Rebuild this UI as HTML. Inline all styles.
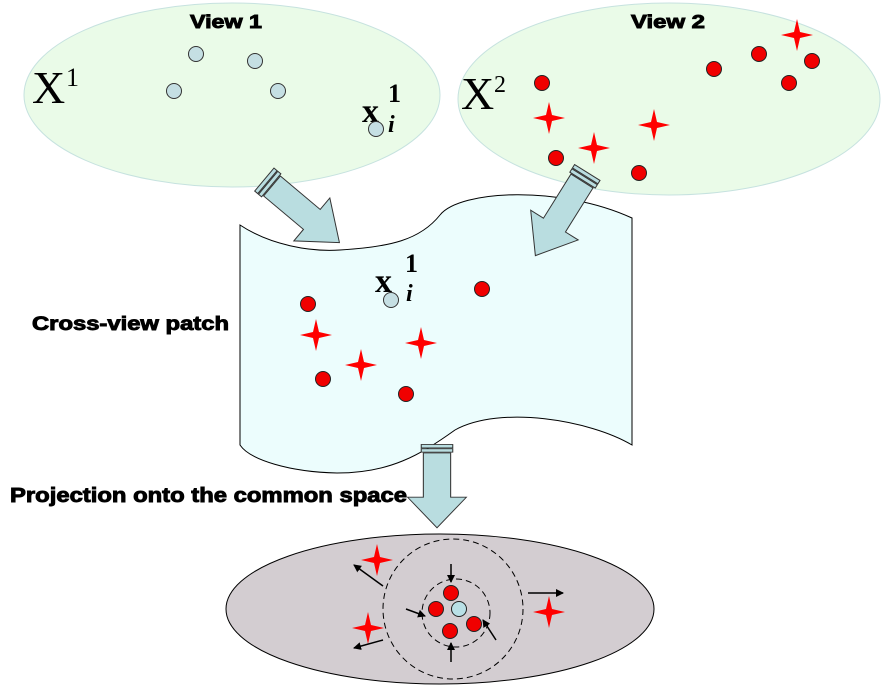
<!DOCTYPE html>
<html><head><meta charset="utf-8"><style>
html,body{margin:0;padding:0;background:#fff;}
svg{display:block;}
.lbl{font-family:"Liberation Sans",sans-serif;font-weight:bold;fill:#000;stroke:#000;stroke-width:0.9;}
.ser{font-family:"Liberation Serif",serif;fill:#000;}
</style></head><body>
<svg width="882" height="687" viewBox="0 0 882 687" xmlns="http://www.w3.org/2000/svg">
<defs>
<path id="star" d="M0,-16 L3,-3 L16,0 L3,3 L0,16 L-3,3 L-16,0 L-3,-3 Z" fill="#ff0000"/>
<marker id="ah" markerWidth="8" markerHeight="8" refX="7" refY="4" orient="auto" markerUnits="userSpaceOnUse"><path d="M0,0 L8,4 L0,8 Z" fill="#000"/></marker>
<g id="barrow">
<path d="M0,-13 L52,-13 L52,-28 L88,0 L52,28 L52,13 L0,13 Z" fill="#b9dde0" stroke="#333" stroke-width="1"/>
<rect x="-10" y="-15" width="4" height="30" fill="#b9dde0" stroke="#333" stroke-width="1"/>
<rect x="-5" y="-15" width="4" height="30" fill="#b9dde0" stroke="#333" stroke-width="1"/>
</g>
</defs>

<ellipse cx="232" cy="95" rx="208" ry="92" fill="#eafbe8" stroke="#c6e2df" stroke-width="1"/>
<ellipse cx="669" cy="99" rx="211" ry="96" fill="#eafbe8" stroke="#c6e2df" stroke-width="1"/>
<text x="190" y="28" class="lbl" font-size="18" textLength="72" lengthAdjust="spacingAndGlyphs">View 1</text>
<text x="631" y="28" class="lbl" font-size="18" textLength="74" lengthAdjust="spacingAndGlyphs">View 2</text>
<text x="32" y="103" class="ser" font-size="46">X</text><text x="66" y="86" class="ser" font-size="26">1</text>
<text x="461" y="109" class="ser" font-size="46">X</text><text x="494" y="92" class="ser" font-size="24">2</text>
<text x="362" y="122" class="ser" font-size="34" font-weight="bold">x</text>
<text x="388" y="102" class="ser" font-size="26" font-weight="bold">1</text>
<text x="388" y="132" class="ser" font-size="24" font-weight="bold" font-style="italic">i</text>
<g fill="#c5dfe3" stroke="#333" stroke-width="1">
<circle cx="196" cy="54" r="7.5"/><circle cx="255" cy="61" r="7.5"/><circle cx="174" cy="91" r="7.5"/><circle cx="278" cy="91" r="7.5"/><circle cx="376" cy="129" r="7.5"/>
</g>
<g fill="#f00000" stroke="#222" stroke-width="1">
<circle cx="542" cy="83" r="7.5"/><circle cx="714" cy="69" r="7.5"/><circle cx="759" cy="54" r="7.5"/><circle cx="812" cy="61" r="7.5"/><circle cx="789" cy="83" r="7.5"/><circle cx="556" cy="158" r="7.5"/><circle cx="639" cy="173" r="7.5"/>
</g>
<use href="#star" x="549" y="118"/><use href="#star" x="594" y="148"/><use href="#star" x="654" y="125"/><use href="#star" x="797" y="35"/>

<path d="M240,225 C270,245 310,252 340,250 C390,247 420,240 440,215 C460,190 560,185 632,218 L632,445 C590,420 500,405 455,430 C420,455 390,473 337,473 C290,472 250,460 240,445 Z" fill="#ecfdfd" stroke="#000" stroke-width="1"/>
<text x="392" y="292" class="ser" font-size="34" font-weight="bold" text-anchor="end">x</text>
<text x="405" y="272" class="ser" font-size="26" font-weight="bold">1</text>
<text x="406" y="301" class="ser" font-size="24" font-weight="bold" font-style="italic">i</text>
<circle cx="391" cy="300" r="7.5" fill="#c5dfe3" stroke="#333"/>
<g fill="#f00000" stroke="#222" stroke-width="1">
<circle cx="308" cy="304" r="7.5"/><circle cx="482" cy="289" r="7.5"/><circle cx="323" cy="379" r="7.5"/><circle cx="406" cy="394" r="7.5"/>
</g>
<use href="#star" x="316" y="335"/><use href="#star" x="361" y="365"/><use href="#star" x="421" y="343"/>

<use href="#barrow" transform="translate(272,186) rotate(40)"/>
<use href="#barrow" transform="translate(582,181) rotate(122)"/>
<use href="#barrow" transform="translate(437,453) rotate(90) scale(0.85,1.05)"/>

<text x="32" y="330" class="lbl" font-size="19" textLength="197" lengthAdjust="spacingAndGlyphs">Cross-view patch</text>
<text x="10" y="502" class="lbl" font-size="20" textLength="397" lengthAdjust="spacingAndGlyphs">Projection onto the common space</text>

<ellipse cx="440" cy="609" rx="214" ry="75" fill="#d3cdd1" stroke="#000" stroke-width="1"/>
<circle cx="453" cy="609" r="70" fill="none" stroke="#000" stroke-dasharray="6,4"/>
<circle cx="456" cy="613" r="34" fill="none" stroke="#000" stroke-dasharray="6,4"/>
<g fill="#f00000" stroke="#222" stroke-width="1">
<circle cx="451" cy="593" r="7.5"/><circle cx="436" cy="609" r="7.5"/><circle cx="450" cy="631" r="7.5"/><circle cx="474" cy="624" r="7.5"/>
</g>
<circle cx="459" cy="609" r="7.5" fill="#b9e0e6" stroke="#222"/>
<use href="#star" x="377" y="560"/><use href="#star" x="368" y="628"/><use href="#star" x="549" y="612"/>
<g stroke="#000" stroke-width="1.5" marker-end="url(#ah)">
<line x1="383" y1="586" x2="354" y2="565"/>
<line x1="383" y1="640" x2="354" y2="648"/>
<line x1="528" y1="593" x2="563" y2="593"/>
<line x1="451" y1="564" x2="451" y2="582"/>
<line x1="406" y1="609" x2="425" y2="616"/>
<line x1="451" y1="662" x2="451" y2="643"/>
<line x1="496" y1="640" x2="483" y2="620"/>
</g>
</svg>
</body></html>
